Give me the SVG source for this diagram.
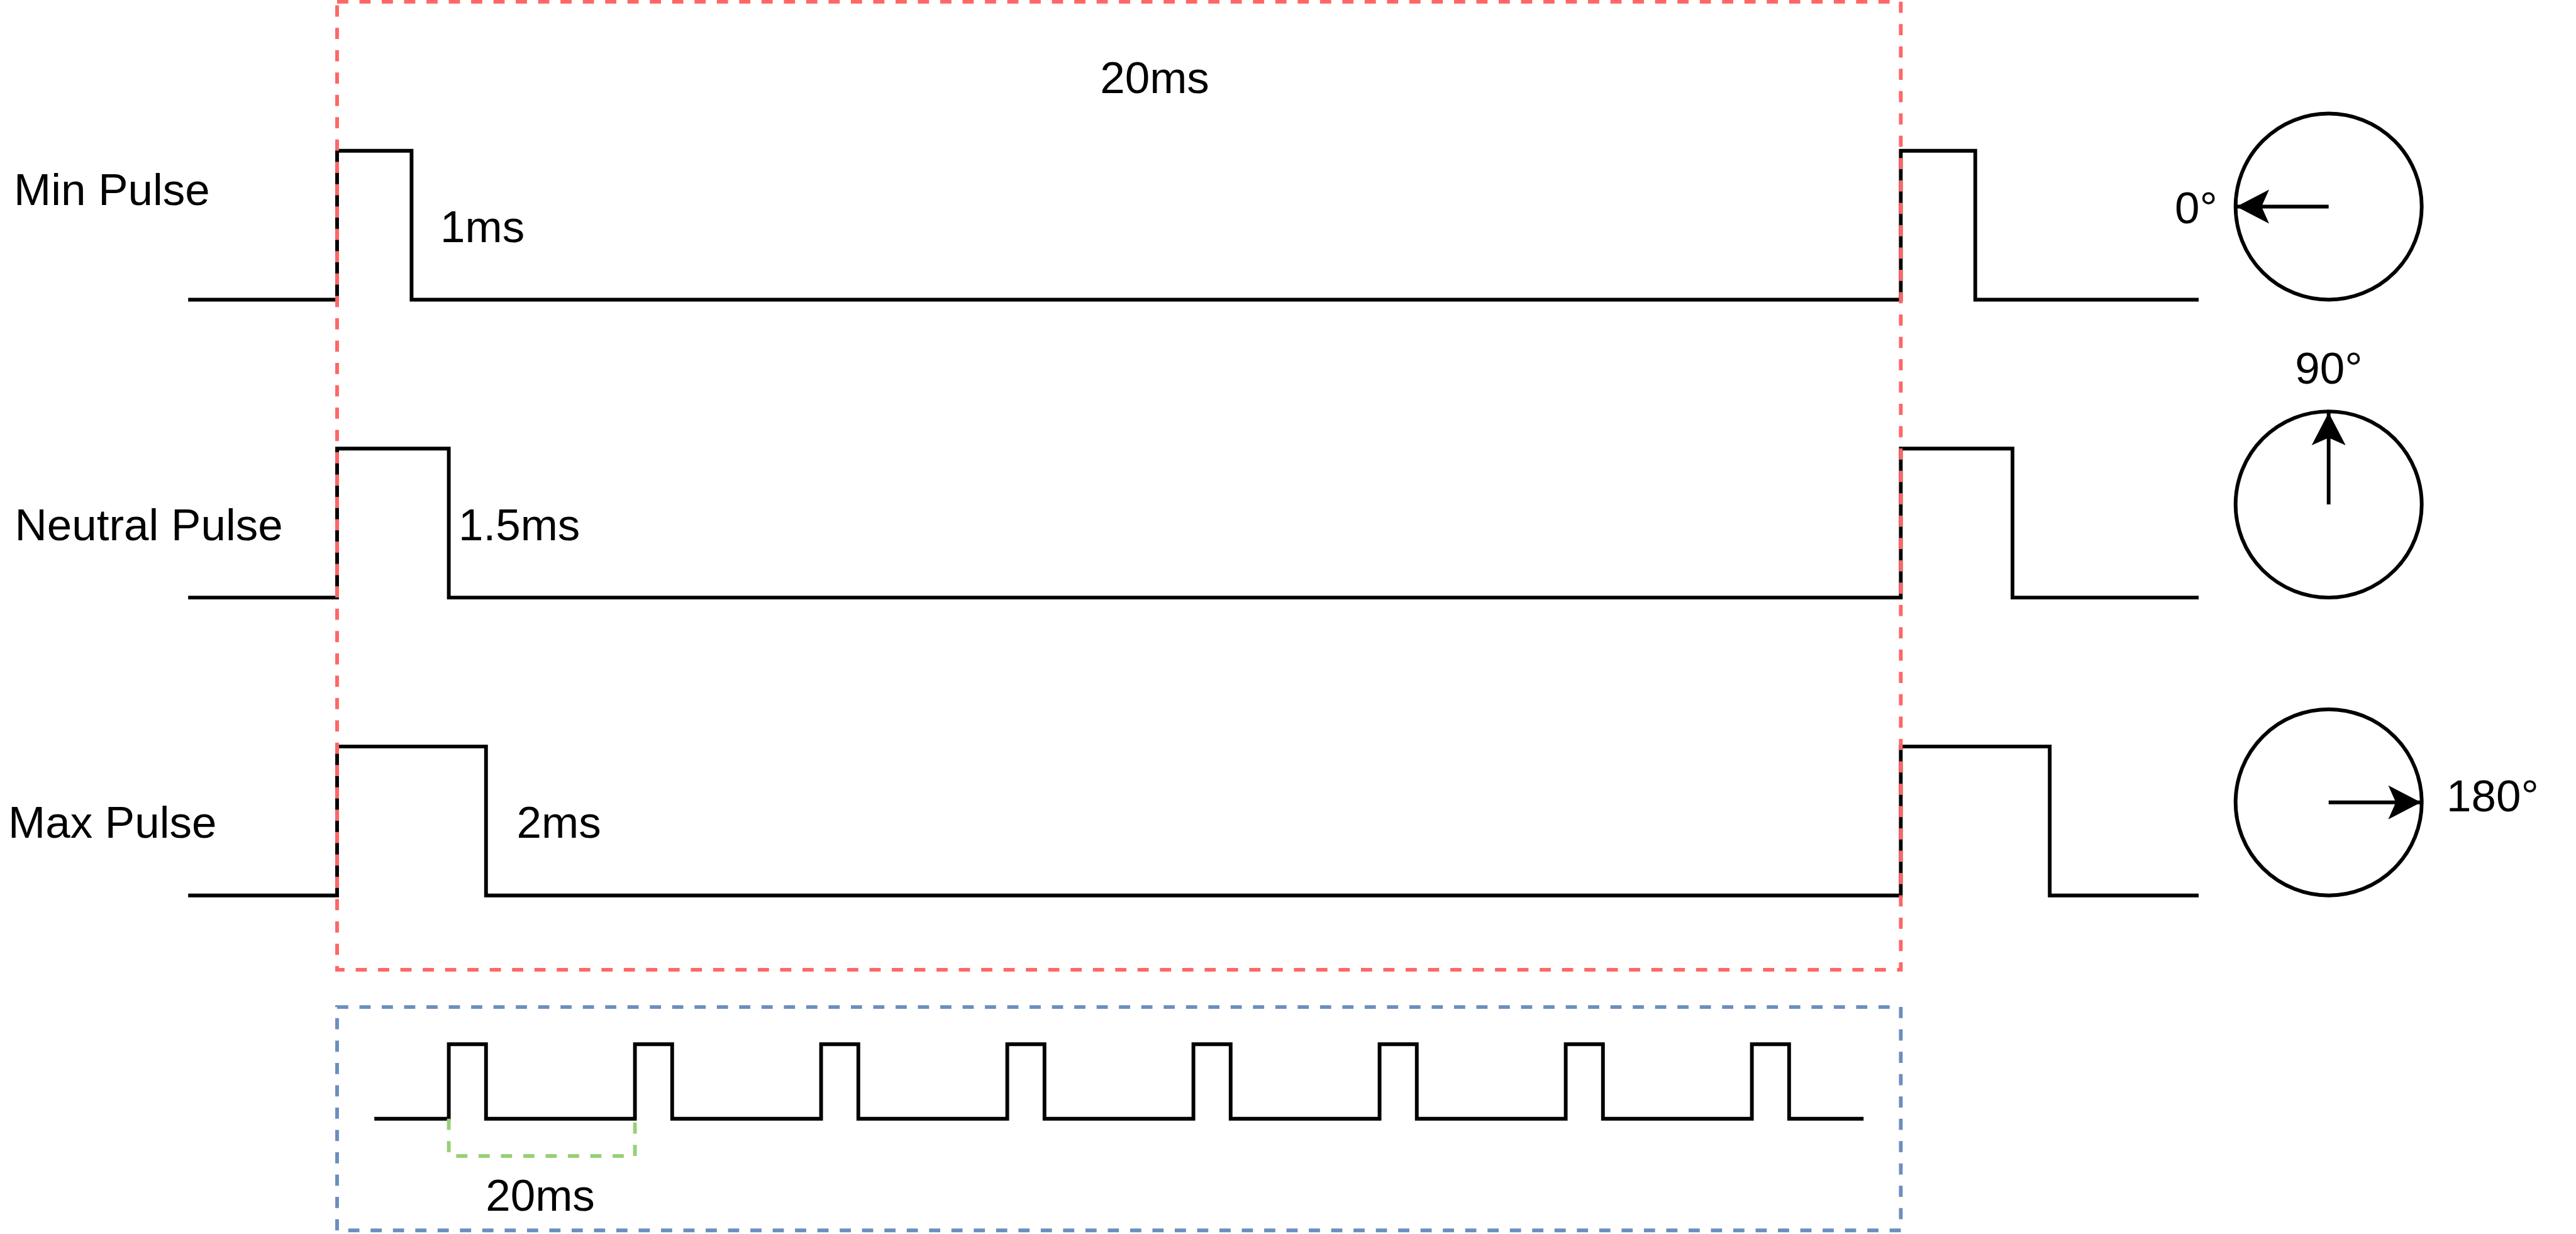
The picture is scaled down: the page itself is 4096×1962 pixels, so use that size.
<svg xmlns="http://www.w3.org/2000/svg" width="4096" height="1962" viewBox="0 0 4096 1962">
<style>
.sig{fill:none;stroke:#000;stroke-width:5.92;stroke-linejoin:miter;stroke-linecap:butt}
.lbl{font-family:"Liberation Sans",Arial,sans-serif;font-size:71px;fill:#000}
.dial{fill:#fff;stroke:#000;stroke-width:5.92}
.ptr{stroke:#000;stroke-width:5.92;fill:none}
</style>
<defs>
<marker id="arr" markerUnits="userSpaceOnUse" viewBox="-56 -30 60 60" refX="0" refY="0" markerWidth="60" markerHeight="60" orient="auto" overflow="visible">
<path d="M0 0 L-52 -27 L-40 0 L-52 27 Z" fill="#000"/>
</marker>
</defs>
<rect width="4096" height="1962" fill="#fff"/>
<g id="connectors">
<path id="wave-min" class="sig" d="M299.2 476.5 H536 V239.7 H654.4 V476.5 H3022.4 V239.7 H3140.8 V476.5 H3496"/>
<path id="wave-neutral" class="sig" d="M299.2 950.1 H536 V713.3 H713.6 V950.1 H3022.4 V713.3 H3200 V950.1 H3496"/>
<path id="wave-max" class="sig" d="M299.2 1423.7 H536 V1186.9 H772.8 V1423.7 H3022.4 V1186.9 H3259.2 V1423.7 H3496"/>
<path id="wave-train" class="sig" d="M595.2 1778.8 H713.6 V1660.3 H772.8 V1778.8 H1009.6 V1660.3 H1068.8 V1778.8 H1305.6 V1660.3 H1364.8 V1778.8 H1601.6 V1660.3 H1660.8 V1778.8 H1897.6 V1660.3 H1956.8 V1778.8 H2193.6 V1660.3 H2252.8 V1778.8 H2489.6 V1660.3 H2548.8 V1778.8 H2785.6 V1660.3 H2844.8 V1778.8 H2963.2"/>
<path id="period-bracket" d="M713.6 1778.8 V1838 H1009.6 V1778.8" fill="none" stroke="#97D077" stroke-width="5.92" stroke-dasharray="17.76 17.76"/>
</g>
<g id="frame-period">
<rect x="536" y="2.7" width="2486.4" height="1539.2" fill="none" stroke="#FF6666" stroke-width="5.92" stroke-dasharray="17.76 17.76"/>
<text class="lbl" x="1836" y="148" text-anchor="middle">20ms</text>
</g>
<g id="frame-train">
<rect x="536" y="1601.1" width="2486.4" height="355.2" fill="none" stroke="#6C8EBF" stroke-width="5.92" stroke-dasharray="17.76 17.76"/>
<text class="lbl" x="859" y="1925" text-anchor="middle">20ms</text>
</g>
<g id="label-min">
<text class="lbl" x="22" y="326">Min Pulse</text>
<text class="lbl" x="700" y="385">1ms</text>
</g>
<g id="label-neutral">
<text class="lbl" x="23.5" y="858.5">Neutral Pulse</text>
<text class="lbl" x="729" y="858.5">1.5ms</text>
</g>
<g id="label-max">
<text class="lbl" x="13" y="1332">Max Pulse</text>
<text class="lbl" x="821.5" y="1332">2ms</text>
</g>
<g id="dial-0">
<circle class="dial" cx="3702.7" cy="328.5" r="148"/>
<line class="ptr" x1="3702.7" y1="328.5" x2="3556" y2="328.5" marker-end="url(#arr)"/>
<text class="lbl" x="3526" y="355" text-anchor="end">0°</text>
</g>
<g id="dial-90">
<text class="lbl" x="3703" y="610" text-anchor="middle">90°</text>
<circle class="dial" cx="3702.7" cy="802.1" r="148"/>
<line class="ptr" x1="3702.7" y1="802.1" x2="3702.7" y2="656" marker-end="url(#arr)"/>
</g>
<g id="dial-180">
<circle class="dial" cx="3702.7" cy="1275.7" r="148"/>
<line class="ptr" x1="3702.7" y1="1275.7" x2="3849.5" y2="1275.7" marker-end="url(#arr)"/>
<text class="lbl" x="3890" y="1290">180°</text>
</g>
</svg>
